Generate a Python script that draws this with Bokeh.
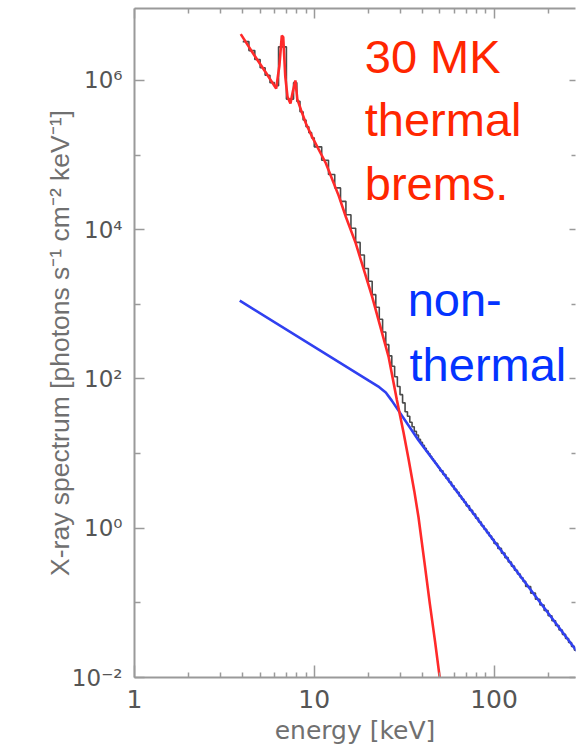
import numpy as np
from bokeh.plotting import figure
from bokeh.models import (LogAxis, FixedTicker, CustomJSTickFormatter, Label,
                          ColumnDataSource, Range1d)
from bokeh.embed import file_html
from bokeh.resources import INLINE

# ---- thermal bremsstrahlung model (30 MK), energy [keV] vs log10 flux ----
thermal_energy = [3.9, 4.6, 5.4, 6.14, 6.4, 6.6, 6.72, 6.9, 7.1, 7.37, 7.6, 7.85,
                  8.05, 8.45, 9.0, 9.75, 11.6, 13.7, 15.0, 17.0, 21.0, 25.9, 28.8,
                  31.4, 33.5, 36.0, 38.0, 41.0, 44.0, 47.0, 50.0, 53.0]
thermal_log10 = [6.62, 6.35, 6.10, 5.89, 6.20, 6.60, 6.58, 6.05, 5.78, 5.69, 5.85, 6.00,
                 5.75, 5.60, 5.42, 5.24, 4.89, 4.45, 4.17, 3.82, 3.10, 2.30, 1.72,
                 1.28, 0.92, 0.50, 0.15, -0.45, -1.02, -1.52, -2.02, -2.55]

# ---- non-thermal broken power law ----
nonthermal_energy = [3.85, 20.0, 23.0, 25.0, 27.0, 38.0, 100.0, 300.0]
nonthermal_log10 = [3.05, 1.98, 1.89, 1.82, 1.71, 1.18, -0.17, -1.70]

# ---- observed count spectrum (histogram bins) ----
obs_edges = [4.0, 4.33, 4.67, 5.0, 5.33, 5.67, 6.0, 6.33, 6.67, 7.0, 7.33, 7.67,
             8.0, 8.33, 8.67, 9.0, 9.33, 9.67, 10.0,
             11, 12, 13, 14, 15, 16, 17, 18, 19, 20, 21, 22, 23, 24, 25, 26, 27,
             28, 29, 30, 31, 32, 33, 34, 35, 36, 37, 38, 39, 40, 41, 42, 43, 44,
             45, 46, 47, 48, 49, 50,
             52, 54, 56, 58, 60, 62, 64, 66, 68, 70,
             73, 76, 79, 82, 85, 88, 91, 94, 97, 100,
             105, 110, 115, 120, 125, 130, 135, 140, 145, 150,
             160, 170, 180, 190, 200, 210, 220, 230, 240, 250, 260, 270, 280, 290]
obs_log10 = [6.52, 6.40, 6.28, 6.17, 6.07, 5.97, 5.93, 6.45, 6.45, 5.75, 5.75, 5.97,
             5.72, 5.58, 5.47, 5.38, 5.30, 5.23,
             5.11, 4.93, 4.74, 4.56, 4.38, 4.20, 4.02, 3.83, 3.66, 3.48, 3.31, 3.13,
             2.96, 2.80, 2.63, 2.46, 2.31, 2.17, 2.03, 1.90, 1.79, 1.68, 1.56, 1.50,
             1.42, 1.36, 1.30, 1.25, 1.19, 1.15, 1.11, 1.07, 1.03, 1.00, 0.965, 0.93,
             0.90, 0.87, 0.84, 0.81,
             0.77, 0.72, 0.67, 0.62, 0.57, 0.52, 0.48, 0.43, 0.39, 0.35,
             0.30, 0.24, 0.19, 0.135, 0.084, 0.034, -0.013, -0.059, -0.104, -0.147,
             -0.203, -0.270, -0.333, -0.394, -0.452, -0.508, -0.562, -0.614, -0.664, -0.712,
             -0.781, -0.869, -0.951, -1.029, -1.102, -1.172, -1.239, -1.303, -1.363,
             -1.422, -1.477, -1.531, -1.583, -1.633]

# ---- axis ticks ----
x_major = [1, 10, 100]
x_minor = [2, 3, 4, 5, 6, 7, 8, 9, 20, 30, 40, 50, 60, 70, 80, 90, 200]
y_major = [1e-2, 1e0, 1e2, 1e4, 1e6]
y_minor = [1e-1, 1e1, 1e3, 1e5]

AXIS_GREY = "#9a9a9a"
TEXT_GREY = "#555555"

p = figure(width=578, height=747, x_axis_type="log", y_axis_type="log",
           x_range=Range1d(1, 284), y_range=Range1d(1e-2, 9.2e6),
           output_backend="svg", toolbar_location=None,
           min_border_left=134, min_border_right=0, min_border_top=8,
           min_border_bottom=69)
p.outline_line_color = None
p.grid.visible = False
p.background_fill_color = "white"
p.border_fill_color = "white"

xt = FixedTicker(ticks=x_major, minor_ticks=x_minor)
yt = FixedTicker(ticks=y_major, minor_ticks=y_minor)

sup_js = """
const sup = {"-":"\u207b","0":"\u2070","1":"\u00b9","2":"\u00b2","3":"\u00b3","4":"\u2074",
             "5":"\u2075","6":"\u2076","7":"\u2077","8":"\u2078","9":"\u2079"};
const e = Math.round(Math.log10(tick));
return "10" + String(e).split("").map(c => sup[c]).join("");
"""

def style_axis(ax, tick_major, tick_minor):
    ax.axis_line_color = AXIS_GREY
    ax.axis_line_width = 2
    ax.major_tick_line_color = AXIS_GREY
    ax.minor_tick_line_color = AXIS_GREY
    ax.major_tick_line_width = 1.5
    ax.minor_tick_line_width = 1.5
    ax.major_tick_in = tick_major
    ax.major_tick_out = 0
    ax.minor_tick_in = tick_minor
    ax.minor_tick_out = 0

xa = p.xaxis[0]
xa.ticker = xt
xa.formatter = CustomJSTickFormatter(code="return String(Math.round(tick));")
style_axis(xa, 12, 5)
xa.major_label_text_font = "DejaVu Sans"
xa.major_label_text_font_size = "25px"
xa.major_label_text_color = TEXT_GREY
xa.major_label_standoff = 12
xa.axis_label = "energy [keV]"
xa.axis_label_text_font = "DejaVu Sans"
xa.axis_label_text_font_size = "25px"
xa.axis_label_text_font_style = "normal"
xa.axis_label_text_color = "#707070"
xa.axis_label_standoff = 5

ya = p.yaxis[0]
ya.ticker = yt
ya.formatter = CustomJSTickFormatter(code=sup_js)
style_axis(ya, 10, 6)
ya.major_label_text_font = "DejaVu Sans"
ya.major_label_text_font_size = "23px"
ya.major_label_text_color = TEXT_GREY
ya.major_label_standoff = 12
ya.axis_label = "X-ray spectrum [photons s\u207b\u00b9 cm\u207b\u00b2 keV\u207b\u00b9]"
ya.axis_label_text_font = "Liberation Sans"
ya.axis_label_text_font_size = "26.5px"
ya.axis_label_text_font_style = "normal"
ya.axis_label_text_color = "#707070"
ya.axis_label_standoff = -6

# mirrored axes on top and right: ticks only
blank = CustomJSTickFormatter(code="return ' ';")
top = LogAxis(ticker=xt, formatter=blank, major_label_text_font_size="1px",
              major_label_standoff=0)
style_axis(top, 10, 5)
p.add_layout(top, "above")

right = LogAxis(ticker=yt, formatter=blank, major_label_text_font_size="1px",
                major_label_standoff=0)
style_axis(right, 6, 4)
right.axis_line_alpha = 0
p.add_layout(right, "right")

# observed spectrum (step histogram)
obs_flux = [10 ** v for v in obs_log10]
obs = ColumnDataSource(dict(x=obs_edges, y=obs_flux + [obs_flux[-1]]))
p.step("x", "y", source=obs, mode="after", line_color="#4a4a4a", line_width=1.6)

# model components
nt = ColumnDataSource(dict(x=nonthermal_energy, y=[10 ** v for v in nonthermal_log10]))
p.line("x", "y", source=nt, line_color="#3040f0", line_width=2.6)

th = ColumnDataSource(dict(x=thermal_energy, y=[10 ** v for v in thermal_log10]))
p.line("x", "y", source=th, line_color="#ff2a2a", line_width=2.6)

# annotations
RED = "#FF2600"
BLUE = "#0433FF"
for txt, yy in [("30 MK", 2.09e6), ("thermal", 3.02e5), ("brems.", 4.18e4)]:
    p.add_layout(Label(x=19.1, y=yy, text=txt, text_color=RED, text_font="Liberation Sans",
                       text_font_size="47px", text_baseline="alphabetic"))
for txt, xx, yy in [("non-", 33.1, 1150), ("thermal", 33.9, 155)]:
    p.add_layout(Label(x=xx, y=yy, text=txt, text_color=BLUE, text_font="Liberation Sans",
                       text_font_size="47px", text_baseline="alphabetic"))

open("out.html", "w").write(file_html(p, INLINE))
